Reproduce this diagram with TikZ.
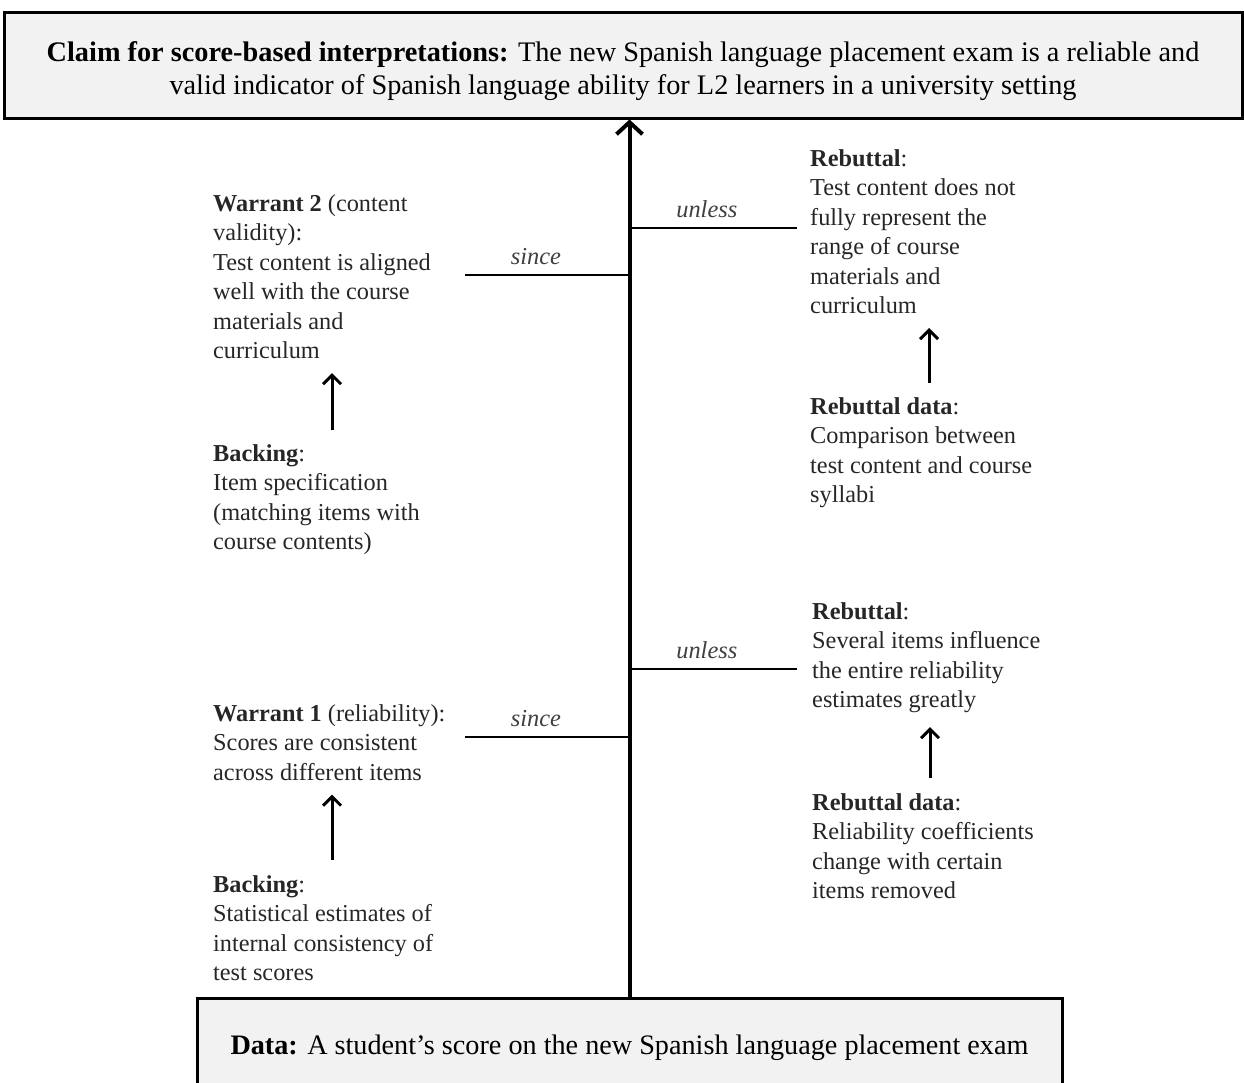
\documentclass[tikz,border=0pt]{standalone}
\usepackage{fontspec}
\setmainfont{Liberation Serif}
\usetikzlibrary{arrows.meta}
\begin{document}
\begin{tikzpicture}[x=1pt,y=-1pt,
  box/.style={draw=black,line width=3pt,fill=black!5,inner sep=0pt,align=center},
  body/.style={anchor=north west,inner sep=0pt,align=left,text=black!85,font=\fontsize{24.3}{29.5}\selectfont},
  link/.style={line width=2.5pt},
  word/.style={above=9pt,inner sep=0pt,text=black!75,font=\fontsize{24.4}{26}\selectfont\itshape},
  spine/.style={line width=4pt,-{Straight Barb[length=12pt,width=26pt,line width=4pt]}},
  uparrow/.style={line width=3pt,-{Straight Barb[length=9pt,width=18pt]}}]
\useasboundingbox (0,0) rectangle (1244,1082);
% claim and data
\node[box,minimum width=1238pt,minimum height=106pt] (claim) at (623,65) {};
\node[align=center,inner sep=0pt,font=\fontsize{28.3}{33}\selectfont] (claimtext) at ([yshift=-6pt]claim.center)
  {\textbf{Claim for score-based interpretations:} The new Spanish language placement exam is a reliable and\\
   valid indicator of Spanish language ability for L2 learners in a university setting};
\node[box,minimum width=865pt,minimum height=100pt,font=\fontsize{28.2}{30}\selectfont] (data) at (629.5,1048)
  {\textbf{Data:} A student's score on the new Spanish language placement exam};
\draw[spine] (data.north) -- (data.north |- claim.south);
% since / unless branches
\coordinate (s2) at (630,275); \coordinate (s2end) at (465,275);
\coordinate (u2) at (630,228); \coordinate (u2end) at (797,228);
\coordinate (u1) at (630,669); \coordinate (u1end) at (797,669);
\coordinate (s1) at (630,737); \coordinate (s1end) at (465,737);
\draw[link] (s2) -- node[word,pos=0.57] {since} (s2end);
\draw[link] (u2) -- node[word,pos=0.46] {unless} (u2end);
\draw[link] (u1) -- node[word,pos=0.46] {unless} (u1end);
\draw[link] (s1) -- node[word,pos=0.57] {since} (s1end);
% left side
\node[body] (w2) at (213,194) {\textbf{Warrant 2} (content\\validity):\\Test content is aligned\\well with the course\\materials and\\curriculum};
\node[body] (b2) at (213,444) {\textbf{Backing}:\\Item specification\\(matching items with\\course contents)};
\node[body] (w1) at (213,704) {\textbf{Warrant 1} (reliability):\\Scores are consistent\\across different items};
\node[body] (b1) at (213,875) {\textbf{Backing}:\\Statistical estimates of\\internal consistency of\\test scores};
% right side
\node[body] (r2) at (810,149) {\textbf{Rebuttal}:\\Test content does not\\fully represent the\\range of course\\materials and\\curriculum};
\node[body] (d2) at (810,397) {\textbf{Rebuttal data}:\\Comparison between\\test content and course\\syllabi};
\node[body] (r1) at (812,602) {\textbf{Rebuttal}:\\Several items influence\\the entire reliability\\estimates greatly};
\node[body] (d1) at (812,793) {\textbf{Rebuttal data}:\\Reliability coefficients\\change with certain\\items removed};
% backing arrows
\coordinate (aw2) at (332,430); \coordinate (aw1) at (332,860);
\coordinate (ar2) at (929,383); \coordinate (ar1) at (930,778);
\draw[uparrow] (aw2) -- ([yshift=-14pt]aw2 |- w2.south);
\draw[uparrow] (aw1) -- ([yshift=-14pt]aw1 |- w1.south);
\draw[uparrow] (ar2) -- ([yshift=-14pt]ar2 |- r2.south);
\draw[uparrow] (ar1) -- ([yshift=-14pt]ar1 |- r1.south);
\end{tikzpicture}
\end{document}
